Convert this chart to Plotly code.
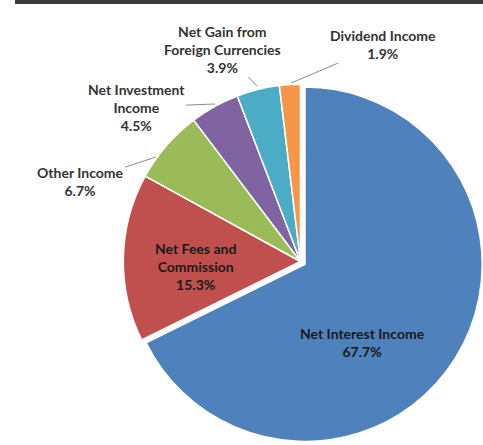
import plotly.graph_objects as go

labels = ["Net Interest Income", "Net Fees and Commission", "Other Income",
          "Net Investment Income", "Net Gain from Foreign Currencies", "Dividend Income"]
values = [67.7, 15.3, 6.7, 4.5, 3.9, 1.9]
colors = ["#4F81BD", "#C0504D", "#9BBB59", "#8064A2", "#4BACC6", "#F79646"]
label_text = ["Net Interest Income<br>67.7%", "Net Fees and<br>Commission<br>15.3%",
              "Other Income<br>6.7%", "Net Investment<br>Income<br>4.5%",
              "Net Gain from<br>Foreign Currencies<br>3.9%", "Dividend Income<br>1.9%"]

W, H = 483, 445
def px(x): return x / W
def py(y): return 1 - y / H

fig = go.Figure(go.Pie(
    labels=labels, values=values, sort=False, direction="clockwise", rotation=0,
    marker=dict(colors=colors, line=dict(color="white", width=1.5)),
    pull=[0.03, 0, 0, 0, 0, 0],
    textinfo="none",
    domain=dict(x=[px(118), 1], y=[0, py(78)]),
    hoverinfo="label+percent", showlegend=False,
))

font = dict(family="Lato", size=14, color="#333333")
# label placement: text center (px), leader-line head (px) or None
placement = [
    ((362, 342), None),
    ((195, 266), None),
    ((80, 182), (156, 157)),
    ((136, 107), (215, 104)),
    ((222, 49), (257, 86)),
    ((383, 44), (291, 83)),
]
annotations = []
for txt, ((tx, ty), head) in zip(label_text, placement):
    a = dict(xref="paper", yref="paper", text="<b>" + txt + "</b>",
             xanchor="center", yanchor="middle",
             font=font if head else dict(font, color="#1a1a1a"), align="center")
    if head is None:
        a.update(x=px(tx), y=py(ty), showarrow=False)
    else:
        hx, hy = head
        a.update(x=px(hx), y=py(hy), ax=tx - hx, ay=ty - hy,
                 axref="pixel", ayref="pixel", showarrow=True, arrowhead=0,
                 arrowwidth=1, arrowcolor="#8c8c8c")
    annotations.append(a)

fig.update_layout(
    width=W, height=H, margin=dict(l=0, r=0, t=0, b=0),
    paper_bgcolor="white", plot_bgcolor="white",
    annotations=annotations,
    shapes=[dict(type="rect", xref="paper", yref="paper",
                 x0=px(15), x1=1, y0=py(4), y1=1,
                 fillcolor="#3a3a3a", line=dict(width=0))],
)

fig.write_html("out.html", config={"displayModeBar": False},
               post_script="document.body.style.margin='0';document.body.style.overflow='hidden';")
